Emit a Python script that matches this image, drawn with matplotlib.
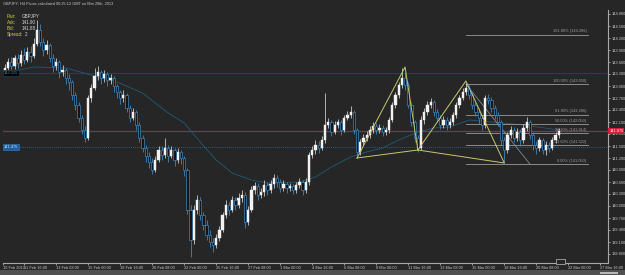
import matplotlib
matplotlib.use('Agg')
import matplotlib.pyplot as plt
from matplotlib.patches import Rectangle
import numpy as np

plt.rcParams['font.family'] = ['Liberation Sans', 'DejaVu Sans']

# ---------------- data ----------------
opens = [143.35,143.45,143.60,143.50,143.70,143.575,143.775,143.65,143.85,143.75,
144.05,144.40,144.10,143.90,144.025,143.70,143.50,143.60,143.35,143.40,
143.20,143.10,142.775,142.525,142.20,141.90,141.70,142.70,142.95,143.25,
143.35,143.20,143.30,143.15,143.20,143.00,142.85,142.70,142.775,142.45,
142.20,142.35,142.025,141.70,141.45,141.25,141.10,140.90,141.15,141.40,
141.275,141.45,141.25,141.40,141.15,141.35,141.20,140.90,139.90,139.15,
139.90,140.15,139.775,139.525,139.275,139.10,139.025,139.20,139.40,139.775,
140.025,139.90,140.15,140.025,140.20,140.275,139.60,139.90,140.40,140.50,
140.275,140.35,140.525,140.40,140.55,140.70,140.60,140.45,140.55,140.45,
140.50,140.40,140.525,140.60,140.40,140.60,141.275,141.40,141.525,141.45,
141.65,142.025,142.10,141.85,142.025,142.10,141.90,142.20,142.275,142.35,
141.90,141.35,141.60,141.70,141.775,141.90,142.00,141.90,141.95,141.85,
141.90,142.15,142.525,142.775,143.025,143.20,143.025,142.525,142.10,141.70,
141.45,142.15,142.35,142.525,142.60,142.35,142.20,142.025,142.15,142.025,
142.10,142.275,142.525,142.70,142.85,142.95,142.775,142.525,142.35,142.20,
142.025,142.70,142.65,142.45,142.275,142.10,141.65,141.40,141.775,141.90,
141.70,141.85,141.65,141.95,142.10,141.775,141.525,141.45,141.65,141.40,
141.525,141.45,141.65,141.775]

closes = [143.45,143.60,143.50,143.70,143.575,143.775,143.65,143.85,143.75,144.05,
144.40,144.10,143.90,144.025,143.70,143.50,143.60,143.35,143.40,143.20,
143.10,142.775,142.525,142.20,141.90,141.70,142.70,142.95,143.25,143.35,
143.20,143.30,143.15,143.20,143.00,142.85,142.70,142.775,142.45,142.20,
142.35,142.025,141.70,141.45,141.25,141.10,140.90,141.15,141.40,141.275,
141.45,141.25,141.40,141.15,141.35,141.20,140.90,139.90,139.15,139.90,
140.15,139.775,139.525,139.275,139.10,139.025,139.20,139.40,139.775,140.025,
139.90,140.15,140.025,140.20,140.275,139.60,139.90,140.40,140.50,140.275,
140.35,140.525,140.40,140.55,140.70,140.60,140.45,140.55,140.45,140.50,
140.40,140.525,140.60,140.40,140.60,141.275,141.40,141.525,141.45,141.65,
142.025,142.10,141.85,142.025,142.10,141.90,142.20,142.275,142.35,141.90,
141.35,141.60,141.70,141.775,141.90,142.00,141.90,141.95,141.85,141.90,
142.15,142.525,142.775,143.025,143.20,143.025,142.525,142.10,141.70,141.45,
142.15,142.35,142.525,142.60,142.35,142.20,142.025,142.15,142.025,142.10,
142.275,142.525,142.70,142.85,142.95,142.775,142.525,142.35,142.20,142.025,
142.70,142.65,142.45,142.275,142.10,141.65,141.40,141.775,141.90,141.70,
141.85,141.65,141.95,142.10,141.775,141.525,141.45,141.65,141.40,141.525,
141.45,141.65,141.775,141.875]

highs = [143.55,143.70,143.725,143.775,143.80,143.90,143.95,143.975,144.00,144.20,
144.65,144.55,144.20,144.15,144.075,143.80,143.70,143.65,143.525,143.45,
143.30,143.15,142.85,142.60,142.275,142.00,142.775,143.05,143.45,143.50,
143.40,143.40,143.35,143.30,143.25,143.05,142.90,142.90,142.825,142.525,
142.45,142.40,142.10,141.775,141.525,141.35,141.20,141.25,141.50,141.50,
141.70,141.525,141.50,141.45,141.45,141.40,141.25,140.95,140.025,140.025,
140.275,140.225,139.85,139.65,139.40,139.20,139.30,139.50,139.85,140.15,
140.10,140.25,140.225,140.325,140.40,140.35,140.00,140.50,140.60,140.575,
140.45,140.65,140.60,140.65,140.80,140.775,140.675,140.65,140.60,140.575,
140.55,140.60,140.70,140.65,140.70,141.35,141.50,141.65,141.625,141.75,
142.825,142.20,142.15,142.125,142.175,142.15,142.275,142.375,142.50,142.40,
141.95,141.675,141.80,141.875,142.00,142.10,142.075,142.05,142.025,141.975,
142.225,142.60,142.85,143.10,143.45,143.35,143.10,142.60,142.15,141.775,
142.25,142.45,142.625,142.70,142.65,142.425,142.275,142.25,142.225,142.20,
142.35,142.60,142.775,142.95,143.075,143.025,142.85,142.60,142.45,142.275,
142.775,142.80,142.725,142.525,142.35,142.15,141.725,141.85,142.00,141.975,
141.95,141.925,142.05,142.225,142.15,141.85,141.625,141.725,141.70,141.625,
141.60,141.725,141.85,141.95]

lows = [143.25,143.375,143.40,143.425,143.45,143.50,143.55,143.60,143.60,143.70,
144.00,144.00,143.75,143.80,143.60,143.35,143.40,143.20,143.25,143.05,
142.90,142.65,142.40,142.10,141.80,141.60,141.65,142.60,142.90,143.15,
143.05,143.10,143.00,143.05,142.85,142.70,142.55,142.60,142.35,142.10,
142.15,141.90,141.60,141.35,141.10,140.95,140.80,140.85,141.10,141.15,
141.20,141.10,141.20,141.00,141.075,141.05,140.75,139.80,138.725,139.05,
139.80,139.65,139.40,139.15,138.975,138.85,138.95,139.125,139.35,139.70,
139.775,139.85,139.90,139.95,140.10,139.45,139.525,139.85,140.30,140.15,
140.20,140.25,140.275,140.325,140.45,140.475,140.35,140.375,140.325,140.375,
140.30,140.325,140.45,140.275,140.325,140.525,141.20,141.30,141.325,141.40,
141.575,141.95,141.75,141.80,141.95,141.775,141.85,142.15,142.20,141.80,
141.25,141.275,141.525,141.625,141.70,141.825,141.80,141.825,141.75,141.775,
141.825,142.10,142.45,142.70,142.95,142.90,142.45,142.00,141.60,141.35,
141.40,142.05,142.275,142.45,142.25,142.10,141.925,141.95,141.90,141.95,
142.025,142.20,142.45,142.65,142.775,142.675,142.425,142.25,142.05,141.90,
141.95,142.55,142.35,142.175,142.00,141.525,141.075,141.325,141.70,141.60,
141.625,141.50,141.575,141.875,141.675,141.40,141.30,141.375,141.30,141.275,
141.35,141.40,141.575,141.70]

ma_idx = [0, 9, 19, 27, 35, 43, 51, 56, 61, 66, 71, 77, 82, 92, 97, 102, 108,
          113, 118, 123, 129, 134, 139, 145, 162, 173]
ma_val = [143.325, 143.475, 143.45, 143.275, 143.10, 142.825, 142.325, 142.075,
          141.60, 141.15, 140.825, 140.65, 140.575, 140.60, 140.725, 140.975,
          141.225, 141.35, 141.45, 141.65, 141.85, 141.95, 141.975, 142.15,
          142.025, 141.90]

level_teal = 143.325
level_bid = 141.875
level_blue = 141.475

fib_low = 141.05
fib_high = 143.05
fib_ratios = [1.618, 1.0, 0.618, 0.5, 0.382, 0.236, 0.0]
fib_start_idx = 144
fib_end_idx = 182
fib_diag_idx = [144, 164]

pattern1_idx = [110, 125, 129, 110]
pattern1_val = [141.20, 143.475, 141.40, 141.20]
pattern2_idx = [129, 144, 156, 129]
pattern2_val = [141.40, 143.125, 141.075, 141.40]

price_ticks = [138.8, 139.1, 139.4, 139.7, 140.0, 140.3, 140.6, 140.9, 141.2,
               141.5, 141.8, 142.1, 142.4, 142.7, 143.0, 143.3, 143.6, 143.9,
               144.2, 144.5, 144.8]

date_pos = [-0.5, 6, 16, 26, 36, 46, 56, 66, 76, 86, 96, 106, 116, 126, 136,
            146, 156, 166, 176, 186]
date_labels = ["10 Feb 2013", "11 Feb 16:00", "13 Feb 08:00", "15 Feb 00:00",
               "18 Feb 16:00", "20 Feb 08:00", "22 Feb 00:00", "25 Feb 16:00",
               "27 Feb 08:00", "1 Mar 00:00", "4 Mar 16:00", "6 Mar 08:00",
               "8 Mar 00:00", "11 Mar 16:00", "13 Mar 08:00", "15 Mar 00:00",
               "18 Mar 16:00", "20 Mar 08:00", "22 Mar 00:00", "27 Mar 16:00"]

title_text = "GBPJPY, H4 Pivots calculated 00:25:12 GMT on Mar 29th, 2013"
info_keys = ["Pair:", "Ask:", "Bid:", "Spread:"]
info_vals = ["GBPJPY", "141.90", "141.88", "2"]

# ---------------- style ----------------
BG = '#262626'
UP = '#f2f2f2'
DOWN_EDGE = '#3f86bd'
WICK_UP = '#c8c8c8'
AX = '#a8a8a8'
TXT = '#c8c8c8'
FS = 2.8

W, H = 625, 275
fig = plt.figure(figsize=(W / 100, H / 100), dpi=100, facecolor=BG)
ax = fig.add_axes([3 / W, 12 / H, 605 / W, 253 / H], facecolor=BG)

n = len(closes)
idx = np.arange(n)
o = np.array(opens); c = np.array(closes)
hi = np.array(highs); lo = np.array(lows)
up = c >= o

# horizontal levels (behind candles)
ax.axhline(level_teal, xmin=0.02, color='#1c4a5a', lw=0.6, zorder=1)
ax.axhline(level_bid, color='#7c3654', lw=0.9, zorder=1)
ax.axhline(level_blue, xmin=0.022, color='#2a70b0', lw=0.6, ls=(0, (1, 1.5)), zorder=1)

# moving average
ax.plot(ma_idx, ma_val, color='#1e5c78', lw=0.6, zorder=2)

# wicks
ax.vlines(idx[up], lo[up], hi[up], color=WICK_UP, lw=0.6, zorder=3)
ax.vlines(idx[~up], lo[~up], hi[~up], color=DOWN_EDGE, lw=0.6, zorder=3)

# bodies
bw = 0.7
ax.bar(idx[up], np.maximum(c[up] - o[up], 0.01), bottom=o[up], width=bw,
       color=UP, edgecolor=UP, lw=0.3, zorder=4)
ax.bar(idx[~up], np.maximum(o[~up] - c[~up], 0.01), bottom=c[~up], width=bw,
       color='#10161c', edgecolor=DOWN_EDGE, lw=0.5, zorder=4)

# fibonacci
rng = fib_high - fib_low
for r in fib_ratios:
    v = fib_low + r * rng
    ax.plot([fib_start_idx, fib_end_idx], [v, v], color='#9a9a9a', lw=0.6, zorder=2)
    ax.text(fib_end_idx - 0.3, v + 0.03, f"{r*100:.2f}% ({v:.3f})",
            color='#a0a0a0', fontsize=FS, ha='right', va='bottom', zorder=5)
ax.plot(fib_diag_idx, [fib_high, fib_low], color='#9a9a9a', lw=0.5, zorder=2)

# harmonic pattern
ax.plot(pattern1_idx, pattern1_val, color='#c8c870', lw=0.7, zorder=5)
ax.plot(pattern2_idx, pattern2_val, color='#c8c870', lw=0.7, zorder=5)

# axes limits
ax.set_xlim(-0.6, 188.4)
ax.set_ylim(138.575, 144.90)

for s in ['left', 'top']:
    ax.spines[s].set_visible(False)
for s in ['right', 'bottom']:
    ax.spines[s].set_color(AX)
    ax.spines[s].set_linewidth(0.8)

ax.yaxis.tick_right()
ax.set_yticks(price_ticks)
ax.set_yticklabels([f"{t:.3f}" for t in price_ticks])
ax.tick_params(axis='y', colors=TXT, labelsize=FS, length=1.5, width=0.5, pad=0.8)
ax.set_xticks(date_pos)
ax.set_xticklabels(date_labels, ha='left')
ax.tick_params(axis='x', colors=TXT, labelsize=FS, length=1.5, width=0.5, pad=0.5)

# price tags
ax.text(1.002, level_bid, f"{level_bid:.3f}", transform=ax.get_yaxis_transform(),
        fontsize=FS, color='white', va='center', ha='left', zorder=6,
        bbox=dict(boxstyle='square,pad=0.2', fc='#d0203a', ec='none'))
ax.text(0.001, level_blue, f"{level_blue:.3f}", transform=ax.get_yaxis_transform(),
        fontsize=FS, color='#cfe4ff', va='center', ha='left', zorder=6,
        bbox=dict(boxstyle='square,pad=0.25', fc='#1d5fa0', ec='#3a80c0', lw=0.4))
ax.text(0.001, level_teal, f"{level_teal:.3f}", transform=ax.get_yaxis_transform(),
        fontsize=FS, color='#3a8aa8', va='center', ha='left', zorder=6,
        bbox=dict(boxstyle='square,pad=0.25', fc='#050505', ec='#1c4a5a', lw=0.4))

# title & info
fig.text(3 / W, 1 - 2 / H, title_text, fontsize=FS, color=TXT, va='top', ha='left')
val_x = [22, 22, 22, 25]
for k, (key, val) in enumerate(zip(info_keys, info_vals)):
    yy = 1 - (14 + 6.0 * k) / H
    fig.text(7 / W, yy, key, fontsize=3.3, color='#d2d23c', va='top', ha='left')
    fig.text(val_x[k] / W, yy, val, fontsize=3.3, color='#d8d8d8', va='top', ha='left')

# bottom strip and scroll thumb
fig.patches.append(Rectangle((0, 0), 1, 5 / H, transform=fig.transFigure,
                             facecolor='#505050', edgecolor='none', zorder=-1))
fig.patches.append(Rectangle((600 / W, 1.5 / H), 18 / W, 2 / H, transform=fig.transFigure,
                             facecolor='#b8b8b8', edgecolor='none'))
# chart shift marker
fig.patches.append(Rectangle((556 / W, 11 / H), 9 / W, 5 / H, transform=fig.transFigure,
                             facecolor=BG, edgecolor='#c0c0c0', lw=0.5))

fig.savefig('out.png', dpi=100, facecolor=BG)
